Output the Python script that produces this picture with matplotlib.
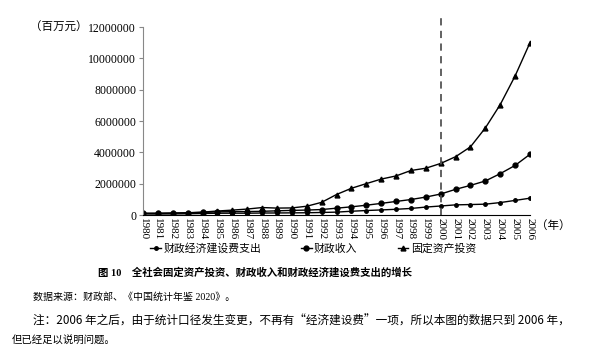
import matplotlib
matplotlib.use("Agg")
import matplotlib.pyplot as plt

plt.rcParams['font.family'] = ['Liberation Serif', 'Noto Sans CJK SC']
cjk = ['Noto Sans CJK SC', 'Liberation Serif']

years = [str(y) for y in range(1980, 2007)]

# 百万元
jianshe = [71550, 63000, 67500, 79400, 96800, 112800, 115900, 115300, 125800, 129100,
           136800, 142800, 161200, 183500, 239300, 285500, 323300, 364700, 418000, 506100,
           574800, 647200, 667300, 691200, 793400, 931600, 1073400]
shouru = [115990, 117580, 121230, 136700, 164290, 200480, 212200, 219940, 235720, 266490,
          293710, 314950, 348340, 434900, 521810, 624220, 740800, 865110, 987600, 1144410,
          1339520, 1638600, 1890360, 2171530, 2639650, 3164930, 3876020]
touzi = [91090, 96100, 123000, 143000, 183300, 254300, 312100, 379200, 475400, 441000,
         451700, 559500, 808000, 1307200, 1704200, 2001900, 2291400, 2494100, 2840600, 2985500,
         3291800, 3721400, 4350000, 5556700, 7047700, 8877400, 10999800]

fig = plt.figure(figsize=(5.94, 3.54), dpi=100)
ax = fig.add_axes([143/594, 1-215/354, 387/594, 188/354])

x = range(len(years))
ax.plot(x, jianshe, color='black', lw=1, marker='o', ms=2.5, label='财政经济建设费支出')
ax.plot(x, shouru, color='black', lw=1, marker='o', ms=3.5, label='财政收入')
ax.plot(x, touzi, color='black', lw=1, marker='^', ms=3.5, label='固定资产投资')
ax.plot([20, 20], [0, 12.6e6], color='#555555', lw=1.3, ls=(0, (4, 3)), clip_on=False)

ax.set_xlim(0, 26)
ax.set_ylim(0, 12e6)
ax.set_yticks(range(0, 12000001, 2000000))
ax.set_yticklabels([str(v) for v in range(0, 12000001, 2000000)], fontsize=8.5)
ax.set_xticks(list(x))
ax.set_xticklabels(years, rotation=-90, fontsize=8)
for s in ['top', 'right']:
    ax.spines[s].set_visible(False)
ax.spines['left'].set_color('#888888')
ax.spines['bottom'].set_color('black')
ax.tick_params(axis='y', length=3, color='#888888', pad=2)
ax.tick_params(axis='x', length=0, pad=2)

fig.text(88/594, 1-27/354, '（百万元）', fontsize=8.3, ha='right', va='center', family=cjk)
fig.text(536/594, 1-225/354, '（年）', fontsize=8.3, ha='left', va='center', family=cjk)

fig.legend(loc='center', bbox_to_anchor=(313/594, 1-248/354), ncol=3, frameon=False,
           handlelength=1.0, columnspacing=3.7, handletextpad=0.2, fontsize=7.8)

fig.text(98/594, 1-273/354, '图 10    全社会固定资产投资、财政收入和财政经济建设费支出的增长',
         fontsize=7.5, fontweight='bold', ha='left', va='center')
fig.text(33/594, 1-297/354, '数据来源：财政部、《中国统计年鉴 2020》。', fontsize=7.2, va='center')
fig.text(33/594, 1-321/354, '注：2006 年之后，由于统计口径发生变更，不再有“经济建设费”一项，所以本图的数据只到 2006 年，',
         fontsize=8.4, va='center', family=cjk)
fig.text(12/594, 1-341/354, '但已经足以说明问题。', fontsize=7.5, va='center')

fig.savefig('out.png', dpi=100)
